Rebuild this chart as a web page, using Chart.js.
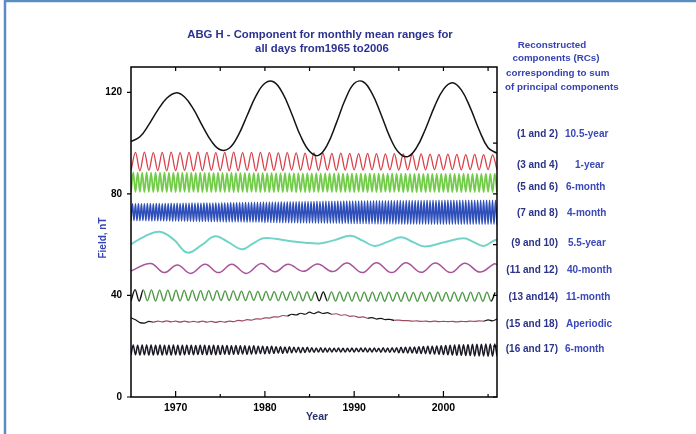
<!DOCTYPE html>
<html>
<head>
<meta charset="utf-8">
<script src="https://cdn.jsdelivr.net/npm/chart.js@4.4.0/dist/chart.umd.min.js"></script>
<style>
  html, body { margin: 0; padding: 0; background: #fff; }
  #wrap { width: 696px; height: 434px; position: relative; }
</style>
</head>
<body>
<div id="wrap"><canvas id="rcChart" width="696" height="434"></canvas></div>
<script>
// Axis ticks
const xLabelYears = [1970, 1980, 1990, 2000];
const xTickYears = [1970, 1975, 1980, 1985, 1990, 1995, 2000, 2005];
const yLabelValues = [0, 40, 80, 120];
const yTickValues = [0, 20, 40, 60, 80, 100, 120];

// Component labels (right side)
const rcPairs = ['(1 and 2)', '(3 and 4)', '(5 and 6)', '(7 and 8)', '(9 and 10)',
                 '(11 and 12)', '(13 and14)', '(15 and 18)', '(16 and 17)'];
const rcPeriods = ['10.5-year', '1-year', '6-month', '4-month', '5.5-year',
                   '40-month', '11-month', 'Aperiodic', '6-month'];

// RC 1+2, 10.5-year cycle, yearly
const solarYears = [1965, 1966, 1967, 1968, 1969, 1970, 1971, 1972, 1973, 1974, 1975, 1976, 1977, 1978,
                    1979, 1980, 1981, 1982, 1983, 1984, 1985, 1986, 1987, 1988, 1989, 1990, 1991, 1992,
                    1993, 1994, 1995, 1996, 1997, 1998, 1999, 2000, 2001, 2002, 2003, 2004, 2005, 2006];
const solarVals = [100.6, 102.5, 107.3, 113.0, 117.7, 119.8, 118.2, 113.4, 106.8, 100.8, 97.4, 98.0, 103.0, 110.8,
                   118.6, 123.6, 124.1, 119.6, 111.6, 102.8, 96.8, 95.2, 99.4, 107.9, 117.2, 123.5, 124.2, 119.6,
                   111.4, 102.4, 96.3, 94.7, 98.3, 105.7, 114.4, 121.2, 123.8, 121.0, 114.0, 105.2, 98.2, 96.0];

// RC 3+4, 1-year, troughs/peaks every half year from 1965.0
const annualVals = [
  89.2, 96.4, 89.1, 96.5, 89.3, 96.3, 89.2, 96.4, 89.1, 96.5,
  89.2, 96.3, 89.3, 96.4, 89.1, 96.5, 89.2, 96.4, 89.3, 96.3,
  89.2, 96.4, 89.1, 96.5, 89.2, 96.3, 89.3, 96.4, 89.1, 96.4,
  89.2, 96.3, 89.3, 96.2, 89.2, 96.3, 89.4, 96.2, 89.3, 96.1,
  89.4, 96.2, 89.3, 96.1, 89.4, 96.0, 89.3, 96.1, 89.4, 96.0,
  89.5, 95.9, 89.4, 96.0, 89.5, 95.9, 89.4, 95.8, 89.5, 95.9,
  89.4, 95.8, 89.5, 95.7, 89.4, 95.8, 89.5, 95.7, 89.6, 95.6,
  89.5, 95.7, 89.6, 95.6, 89.5, 95.5, 89.6, 95.6, 89.5, 95.5,
  89.6, 95.4, 89.5];

// RC 5+6, 6-month, every quarter year
const semiVals = [
  80.8, 88.5, 80.7, 88.5, 80.8, 88.4, 80.7, 88.5,
  80.8, 88.4, 80.7, 88.5, 80.8, 88.4, 80.8, 88.5,
  80.7, 88.4, 80.8, 88.4, 80.7, 88.5, 80.8, 88.4,
  80.8, 88.4, 80.7, 88.4, 80.8, 88.3, 80.7, 88.4,
  80.7, 88.3, 80.8, 88.4, 80.7, 88.3, 80.8, 88.4,
  80.8, 88.3, 80.7, 88.3, 80.8, 88.4, 80.7, 88.3,
  80.7, 88.3, 80.8, 88.3, 80.7, 88.2, 80.8, 88.3,
  80.8, 88.2, 80.7, 88.3, 80.8, 88.2, 80.7, 88.3,
  80.7, 88.2, 80.8, 88.2, 80.7, 88.3, 80.8, 88.2,
  80.8, 88.2, 80.7, 88.2, 80.8, 88.1, 80.7, 88.2,
  80.7, 88.1, 80.8, 88.2, 80.7, 88.1, 80.8, 88.2,
  80.8, 88.1, 80.7, 88.1, 80.8, 88.2, 80.7, 88.1,
  80.7, 88.1, 80.8, 88.1, 80.7, 88.0, 80.8, 88.1,
  80.8, 88.0, 80.7, 88.1, 80.8, 88.0, 80.7, 88.1,
  80.7, 88.0, 80.8, 88.0, 80.7, 88.1, 80.8, 88.0,
  80.8, 88.0, 80.7, 88.0, 80.8, 87.9, 80.7, 88.0,
  80.7, 88.0, 80.8, 87.9, 80.7, 88.0, 80.8, 87.9,
  80.8, 87.9, 80.7, 88.0, 80.8, 87.9, 80.7, 88.0,
  80.7, 87.9, 80.8, 87.9, 80.7, 88.0, 80.8, 87.9,
  80.8, 87.9, 80.7, 87.9, 80.8, 87.9, 80.7, 88.0,
  80.8, 87.9, 80.7, 88.0, 80.8];

// RC 7+8, 4-month, every sixth of a year
const triVals = [
  69.4, 76.1, 69.5, 76.1, 69.4, 76.2, 69.4, 76.1, 69.5, 76.1, 69.4, 76.2,
  69.4, 76.2, 69.3, 76.1, 69.4, 76.2, 69.3, 76.2, 69.4, 76.1, 69.3, 76.2,
  69.3, 76.2, 69.3, 76.3, 69.2, 76.2, 69.3, 76.3, 69.2, 76.2, 69.3, 76.3,
  69.2, 76.3, 69.2, 76.3, 69.2, 76.4, 69.1, 76.3, 69.2, 76.4, 69.1, 76.3,
  69.1, 76.4, 69.1, 76.4, 69.1, 76.4, 69.0, 76.4, 69.1, 76.5, 69.0, 76.4,
  69.0, 76.5, 69.0, 76.5, 68.9, 76.5, 69.0, 76.6, 68.9, 76.5, 69.0, 76.6,
  68.9, 76.6, 68.9, 76.6, 68.9, 76.7, 68.8, 76.6, 68.9, 76.7, 68.8, 76.7,
  68.8, 76.7, 68.8, 76.7, 68.8, 76.8, 68.7, 76.7, 68.8, 76.8, 68.7, 76.8,
  68.7, 76.8, 68.7, 76.8, 68.7, 76.9, 68.6, 76.8, 68.7, 76.9, 68.6, 76.9,
  68.6, 76.9, 68.6, 76.9, 68.6, 77.0, 68.5, 76.9, 68.6, 77.0, 68.5, 77.0,
  68.5, 77.0, 68.5, 77.0, 68.5, 77.1, 68.4, 77.0, 68.5, 77.1, 68.4, 77.1,
  68.4, 77.1, 68.4, 77.1, 68.4, 77.1, 68.4, 77.2, 68.4, 77.1, 68.3, 77.2,
  68.4, 77.2, 68.3, 77.2, 68.3, 77.2, 68.3, 77.2, 68.3, 77.2, 68.3, 77.3,
  68.3, 77.2, 68.3, 77.3, 68.2, 77.2, 68.3, 77.3, 68.2, 77.3, 68.2, 77.3,
  68.2, 77.3, 68.2, 77.3, 68.2, 77.3, 68.2, 77.4, 68.2, 77.3, 68.1, 77.4,
  68.2, 77.4, 68.1, 77.3, 68.1, 77.4, 68.1, 77.4, 68.1, 77.4, 68.1, 77.4,
  68.1, 77.4, 68.1, 77.4, 68.1, 77.4, 68.1, 77.5, 68.1, 77.4, 68.0, 77.5,
  68.1, 77.4, 68.0, 77.5, 68.1, 77.4, 68.0, 77.5, 68.1, 77.5, 68.0, 77.5,
  68.0, 77.5, 68.1, 77.4, 68.0, 77.5, 68.0, 77.5, 68.1, 77.5, 68.0, 77.5,
  68.0, 77.5, 68.0, 77.5, 68.1, 77.5, 68.0, 77.5, 68.0, 77.5, 68.0, 77.5,
  68.0, 77.5, 68.1, 77.5, 68.0, 77.5, 68.0];

// RC 9+10, 5.5-year
const quasiYears = [1965.0, 1966.5, 1968.2, 1969.8, 1971.3, 1972.9, 1974.4, 1975.9, 1977.4, 1978.6,
                    1979.8, 1981.2, 1982.7, 1984.5, 1986.1, 1987.8, 1989.6, 1991.0, 1992.3, 1993.8,
                    1995.3, 1996.6, 1997.9, 2000.1, 2002.3, 2003.4, 2004.5, 2005.6, 2006.0];
const quasiVals = [60.2, 63.2, 65.1, 62.0, 56.9, 59.8, 63.3, 61.0, 58.2, 60.3,
                   62.5, 62.3, 61.5, 60.8, 60.5, 61.8, 63.5, 61.5, 59.5, 61.2,
                   62.9, 61.0, 59.3, 61.0, 62.5, 61.0, 59.5, 61.5, 62.0];

// RC 11+12, 40-month
const qboYears = [1965.0, 1967.2, 1968.7, 1970.2, 1971.7, 1973.3, 1974.8, 1976.3, 1977.9, 1979.6,
                  1981.1, 1982.6, 1984.3, 1985.9, 1987.6, 1989.2, 1990.9, 1992.5, 1994.2, 1995.8,
                  1997.5, 1999.1, 2000.8, 2002.4, 2004.1, 2005.7, 2006.0];
const qboVals = [49.6, 52.6, 49.0, 52.0, 48.7, 52.3, 49.0, 52.3, 48.7, 52.6,
                 49.3, 52.3, 49.5, 52.4, 49.4, 52.8, 49.0, 52.9, 49.0, 52.9,
                 49.1, 52.8, 49.0, 52.7, 49.2, 52.5, 52.2];

// RC 13+14, 11-month, every half period (11/24 yr)
const elevenVals = [
  37.8, 42.3, 37.8, 42.2, 37.9, 42.2, 37.8, 42.1, 37.9, 42.1,
  37.9, 42.1, 37.9, 42.0, 38.0, 42.0, 37.9, 41.9, 38.0, 41.9,
  38.0, 41.9, 38.0, 41.8, 38.0, 41.8, 38.1, 41.7, 38.0, 41.7,
  38.1, 41.6, 38.0, 41.6, 38.1, 41.5, 38.0, 41.5, 38.1, 41.5,
  38.0, 41.5, 37.9, 41.4, 38.0, 41.4, 37.9, 41.4, 37.9, 41.4,
  37.8, 41.4, 37.8, 41.3, 37.8, 41.3, 37.8, 41.3, 37.7, 41.3,
  37.8, 41.3, 37.7, 41.3, 37.8, 41.2, 37.7, 41.3, 37.8, 41.2,
  37.7, 41.3, 37.8, 41.2, 37.7, 41.3, 37.8, 41.2, 37.7, 41.3,
  37.8, 41.2, 37.7, 41.3, 37.8, 41.2, 37.7, 41.3, 37.8, 41.2];

// RC 15+18, aperiodic, every half year
const trendVals = [
  31.2, 30.4, 29.3, 29.1, 29.8, 29.5, 29.9, 29.6, 30.0, 29.6,
  29.9, 29.5, 29.9, 29.5, 29.8, 29.5, 29.9, 29.5, 29.8, 29.4,
  29.8, 29.5, 29.9, 29.7, 30.2, 30.0, 30.5, 30.3, 30.8, 30.7,
  31.2, 31.1, 31.6, 31.5, 32.1, 31.9, 32.6, 32.3, 33.0, 32.6,
  33.4, 32.8, 33.5, 32.9, 33.2, 32.6, 32.8, 32.2, 32.4, 31.8,
  31.9, 31.4, 31.6, 31.0, 31.3, 30.7, 31.0, 30.5, 30.6, 30.2,
  30.3, 30.1, 30.1, 29.9, 30.0, 29.8, 29.9, 29.7, 29.9, 29.7,
  29.8, 29.7, 29.8, 29.6, 29.8, 29.7, 29.9, 29.8, 30.0, 29.9,
  30.4, 30.0, 30.7];

// RC 16+17, 6-month, every quarter year
const semi2Vals = [
  16.5, 20.5, 16.6, 20.4, 16.5, 20.5, 16.6, 20.5,
  16.5, 20.5, 16.5, 20.4, 16.6, 20.5, 16.5, 20.4,
  16.6, 20.4, 16.5, 20.5, 16.6, 20.4, 16.5, 20.4,
  16.6, 20.4, 16.7, 20.4, 16.6, 20.3, 16.7, 20.4,
  16.7, 20.4, 16.6, 20.3, 16.7, 20.4, 16.6, 20.3,
  16.7, 20.3, 16.8, 20.3, 16.7, 20.2, 16.8, 20.3,
  16.8, 20.2, 16.9, 20.2, 16.8, 20.1, 16.9, 20.2,
  17.0, 20.0, 17.1, 20.0, 17.0, 19.9, 17.1, 20.0,
  17.2, 19.8, 17.3, 19.8, 17.2, 19.7, 17.3, 19.8,
  17.4, 19.6, 17.5, 19.6, 17.4, 19.5, 17.5, 19.6,
  17.6, 19.4, 17.6, 19.3, 17.7, 19.4, 17.6, 19.3,
  17.7, 19.3, 17.7, 19.2, 17.8, 19.3, 17.7, 19.2,
  17.7, 19.2, 17.8, 19.3, 17.7, 19.2, 17.8, 19.3,
  17.8, 19.3, 17.7, 19.2, 17.7, 19.3, 17.8, 19.2,
  17.6, 19.4, 17.7, 19.3, 17.6, 19.4, 17.6, 19.4,
  17.4, 19.6, 17.4, 19.6, 17.3, 19.7, 17.3, 19.7,
  17.2, 19.8, 17.1, 19.9, 17.1, 20.0, 17.0, 20.0,
  16.9, 20.1, 16.8, 20.2, 16.7, 20.3, 16.6, 20.4,
  16.5, 20.5, 16.4, 20.6, 16.4, 20.6, 16.3, 20.7,
  16.3, 20.8, 16.2, 20.8, 16.2, 20.8, 16.2, 20.9,
  16.1, 20.9, 16.1, 20.9, 16.1];

// Stretches where a component is drawn in black
const elevenBlack = [[1965.0, 1966.2], [1985.3, 1987.0], [2005.2, 2006.0]];
const trendBlack = [[1965.0, 1967.3], [1982.5, 1987.5], [1991.5, 1994.5], [2004.5, 2006.0]];

const FONT = "'Liberation Sans', Arial, Helvetica, sans-serif";

function pairUp(xs, ys) {
    return ys.map((v, i) => ({ x: xs[i], y: v }));
}

// evenly sampled series: first x and spacing
function stepped(start, step, ys) {
    return ys.map((v, i) => ({ x: start + i * step, y: v }));
}

function inStretch(x, stretches) {
    return stretches.some(r => x >= r[0] && x < r[1]);
}

// smooth = plain bezier tension (slow curves), otherwise monotone through the extremes
function lineSet(data, color, width, opts = {}) {
    const ds = {
        data: data,
        borderColor: color,
        borderWidth: width,
        pointRadius: 0,
        fill: false
    };
    if (opts.smooth) {
        ds.tension = 0.4;
    } else {
        ds.cubicInterpolationMode = 'monotone';
    }
    if (opts.black) {
        ds.segment = {
            borderColor: c => inStretch(c.p0.parsed.x, opts.black) ? '#151515' : color
        };
    }
    return ds;
}

// Frame, inward tick marks and all captions
const frameAndText = {
    id: 'frameAndText',
    afterDraw(chart) {
        const ctx = chart.ctx;
        const { left, right, top, bottom } = chart.chartArea;
        const xs = chart.scales.x, ys = chart.scales.y;
        ctx.save();

        // blue page edge
        ctx.strokeStyle = '#5a8ec2';
        ctx.lineWidth = 2.5;
        ctx.beginPath();
        ctx.moveTo(5, 434); ctx.lineTo(5, 1); ctx.lineTo(696, 1);
        ctx.stroke();

        ctx.strokeStyle = '#000';
        ctx.lineWidth = 1.5;
        ctx.strokeRect(left, top, right - left, bottom - top);

        ctx.lineWidth = 1.2;
        ctx.beginPath();
        xTickYears.forEach(v => {
            const px = xs.getPixelForValue(v);
            const major = v % 10 === 0;
            ctx.moveTo(px, bottom); ctx.lineTo(px, bottom - (major ? 6 : 3));
            ctx.moveTo(px, top); ctx.lineTo(px, top + 4);
        });
        yTickValues.forEach(v => {
            const py = ys.getPixelForValue(v);
            if (v % 40 === 0) { ctx.moveTo(left, py); ctx.lineTo(left - 4, py); }
            ctx.moveTo(right, py); ctx.lineTo(right - 4, py);
        });
        ctx.stroke();

        // title
        ctx.fillStyle = '#2b3290';
        ctx.font = 'bold 11.3px ' + FONT;
        ctx.textAlign = 'center';
        ctx.textBaseline = 'middle';
        ctx.fillText('ABG H - Component for monthly mean ranges for', 320, 35);
        ctx.fillText('all days from1965 to2006', 322, 49);

        // header on the right
        ctx.fillStyle = '#3743b2';
        ctx.font = 'bold 9.8px ' + FONT;
        ctx.fillText('Reconstructed', 552, 45);
        ctx.fillText('components (RCs)', 556, 58);
        ctx.textAlign = 'left';
        ctx.fillText('corresponding to sum', 506, 73);
        ctx.fillText('of principal components', 505, 87);

        // component captions
        const rowY = [134, 165, 187, 213, 243, 270, 297, 324, 349];
        const periodX = [565, 575, 566, 567, 568, 567, 566, 566, 565];
        ctx.font = 'bold 10px ' + FONT;
        rcPairs.forEach((t, i) => {
            ctx.textAlign = 'right';
            ctx.fillStyle = '#2a3388';
            ctx.fillText(t, 558, rowY[i]);
            ctx.textAlign = 'left';
            ctx.fillStyle = '#3a48b8';
            ctx.fillText(rcPeriods[i], periodX[i], rowY[i]);
        });

        // axis titles
        ctx.textAlign = 'center';
        ctx.fillStyle = '#27306f';
        ctx.font = 'bold 10.5px ' + FONT;
        ctx.fillText('Year', 317, 417);
        ctx.save();
        ctx.translate(103.5, 238);
        ctx.rotate(-Math.PI / 2);
        ctx.fillStyle = '#3743b2';
        ctx.font = 'bold 10px ' + FONT;
        ctx.fillText('Field, nT', 0, 0);
        ctx.restore();

        ctx.restore();
    }
};

const rcChart = new Chart(document.getElementById('rcChart').getContext('2d'), {
    type: 'line',
    data: {
        datasets: [
            lineSet(pairUp(solarYears, solarVals), '#141414', 1.5, { smooth: true }),
            lineSet(stepped(1965, 0.5, annualVals), '#d8404a', 1.3),
            lineSet(stepped(1965, 0.25, semiVals), '#72cc4a', 1.8),
            lineSet(stepped(1965, 1 / 6, triVals), '#2e4fba', 1.5),
            lineSet(pairUp(quasiYears, quasiVals), '#72d4c8', 2, { smooth: true }),
            lineSet(pairUp(qboYears, qboVals), '#a8549a', 1.5, { smooth: true }),
            lineSet(stepped(1965, 11 / 24, elevenVals), '#4f9a46', 1.4, { black: elevenBlack }),
            lineSet(stepped(1965, 0.5, trendVals), '#9e4c60', 1.2, { black: trendBlack }),
            lineSet(stepped(1965, 0.25, semi2Vals), '#1a1a26', 1.5)
        ]
    },
    options: {
        responsive: false,
        devicePixelRatio: 1,
        animation: false,
        layout: { padding: { left: 0, right: 199, top: 67, bottom: 0 } },
        plugins: {
            legend: { display: false },
            tooltip: { enabled: false },
            title: { display: false }
        },
        scales: {
            x: {
                type: 'linear',
                min: 1965,
                max: 2006,
                afterBuildTicks: s => { s.ticks = xLabelYears.map(v => ({ value: v })); },
                afterFit: s => { s.height = 37; },
                grid: { display: false, drawTicks: false },
                border: { display: false },
                ticks: {
                    color: '#000',
                    font: { family: FONT, size: 10.5, weight: 'bold' },
                    padding: 5,
                    maxRotation: 0,
                    autoSkip: false,
                    callback: v => String(v)
                }
            },
            y: {
                type: 'linear',
                min: 0,
                max: 130,
                afterBuildTicks: s => { s.ticks = yLabelValues.map(v => ({ value: v })); },
                afterFit: s => { s.width = 131; },
                grid: { display: false, drawTicks: false },
                border: { display: false },
                ticks: {
                    color: '#000',
                    font: { family: FONT, size: 10, weight: 'bold' },
                    padding: 9,
                    callback: v => String(v)
                }
            }
        }
    },
    plugins: [frameAndText]
});
</script>
</body>
</html>
